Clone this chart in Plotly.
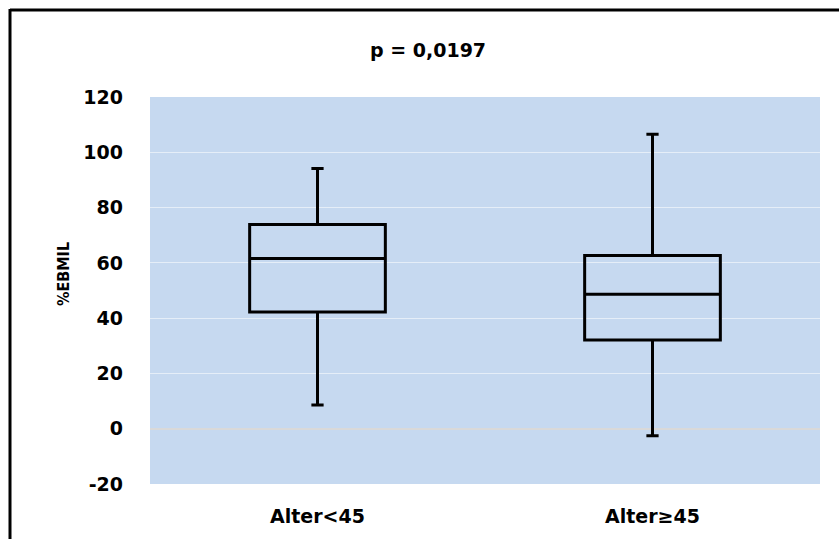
import plotly.graph_objects as go

categories = ["Alter<45", "Alter≥45"]
lower_whisker = [8.6, -2.5]
q1_values = [42.2, 32.1]
median_values = [61.6, 48.6]
q3_values = [73.9, 62.7]
upper_whisker = [94.1, 106.5]
y_ticks = [-20, 0, 20, 40, 60, 80, 100, 120]
y_tick_labels = ["-20", "0", "20", "40", "60", "80", "100", "120"]
title_text = "p = 0,0197"
y_title = "%EBMIL"

FONT = "DejaVu Sans"
FONT2 = "DejaVu Sans Condensed"

fig = go.Figure()
fig.add_trace(go.Box(
    x=categories,
    q1=q1_values,
    median=median_values,
    q3=q3_values,
    lowerfence=lower_whisker,
    upperfence=upper_whisker,
    width=0.405,
    whiskerwidth=0.09,
    line=dict(color="black", width=3),
    fillcolor="rgba(0,0,0,0)",
    boxpoints=False,
    hoverinfo="skip",
    showlegend=False,
))

L, R, T, B = 150, 19, 97, 55
W, H = 839, 539
pw, ph = W - L - R, H - T - B

def px_x(x):
    return (x - L) / pw

def px_y(y):
    return (H - B - y) / ph

fig.update_layout(
    width=W, height=H,
    margin=dict(l=L, r=R, t=T, b=B),
    paper_bgcolor="white",
    plot_bgcolor="#C6D9F0",
    font=dict(family=FONT, color="black"),
    xaxis=dict(
        type="category",
        range=[-0.5, 1.5],
        showgrid=False,
        showline=False,
        ticks="",
        tickfont=dict(family=FONT, size=19, color="black", weight="bold"),
        ticklabelstandoff=19,
    ),
    yaxis=dict(
        range=[-20, 120],
        tickvals=y_ticks,
        ticktext=y_tick_labels,
        showgrid=True,
        gridcolor="rgba(255,255,255,0.55)",
        gridwidth=1,
        zeroline=True,
        zerolinecolor="#D9D9D9",
        zerolinewidth=2,
        showline=False,
        ticks="",
        tickfont=dict(family=FONT, size=19, color="black", weight="bold"),
        ticklabelstandoff=26,
    ),
    annotations=[
        dict(text=title_text, x=px_x(428), y=px_y(50), xref="paper", yref="paper",
             showarrow=False, xanchor="center", yanchor="middle",
             font=dict(family=FONT, size=19, color="black", weight="bold")),
        dict(text=y_title, x=px_x(63), y=px_y(274), xref="paper", yref="paper",
             showarrow=False, xanchor="center", yanchor="middle", textangle=-90,
             font=dict(family=FONT2, size=16, color="black", weight="bold")),
    ],
    shapes=[
        dict(type="line", xref="paper", yref="paper", x0=px_x(10), x1=px_x(W + 5),
             y0=px_y(10), y1=px_y(10), line=dict(color="black", width=3)),
        dict(type="line", xref="paper", yref="paper", x0=px_x(10), x1=px_x(10),
             y0=px_y(9), y1=px_y(H + 5), line=dict(color="black", width=3)),
    ],
)

fig.write_html("out.html")
